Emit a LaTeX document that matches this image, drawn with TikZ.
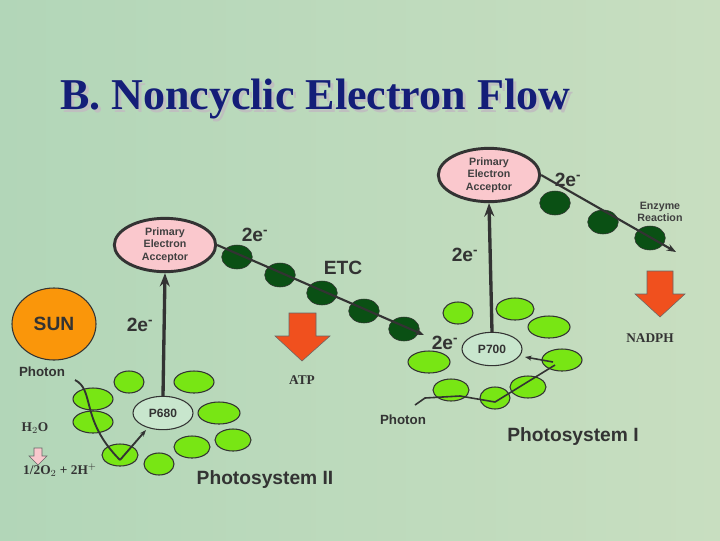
\documentclass[tikz,border=0pt]{standalone}
\usepackage{fontspec}
\setmainfont{Liberation Serif}
\setsansfont{Liberation Sans}
\usetikzlibrary{shapes.geometric, arrows.meta}
\definecolor{bgleft}{RGB}{178,214,184}
\definecolor{bgright}{RGB}{200,222,192}
\definecolor{titleblue}{RGB}{20,30,120}
\definecolor{pinkfill}{RGB}{250,200,205}
\definecolor{lightgreen}{RGB}{120,230,20}
\definecolor{darkgreen}{RGB}{10,80,20}
\definecolor{sunorange}{RGB}{250,150,10}
\definecolor{arrowred}{RGB}{240,80,30}
\definecolor{pfill}{RGB}{200,230,205}
\tikzstyle{arrow} = [line width=2.5pt,-{Stealth[length=10pt]},draw=black!80]

\begin{document}
\begin{tikzpicture}[x=0.75pt, y=-0.75pt,
		acceptor/.style={ellipse, draw=black!80, line width=2.2pt, fill=pinkfill,
			minimum width=76pt, minimum height=40pt, inner sep=0pt, align=center,
			font=\sffamily\bfseries\footnotesize, text=black!75},
		pigment/.style={ellipse, draw=black!80, thick, fill=lightgreen,
			minimum width={0.75pt*#1}, minimum height=16.5pt, inner sep=0pt},
		pigment/.default=40,
		carrier/.style={ellipse, draw=black!80, fill=darkgreen,
			minimum width=23pt, minimum height=18pt, inner sep=0pt},
		center/.style={ellipse, draw=black!80, thick, fill=pfill, minimum width=45pt,
			minimum height=25pt, inner sep=0pt, font=\sffamily\bfseries\small, text=black!80},
		chain/.style={line width=1.6pt, black!80, -{Stealth[length=7pt]}},
		bigarrow/.style={draw=black!60, fill=arrowred},
		lbl/.style={font=\sffamily\bfseries\Large, text=black!80},
		small/.style={font=\sffamily\bfseries\footnotesize, text=black!75, align=center}]

		\shade[left color=bgleft, right color=bgright] (0,0) rectangle (720,540);
		\useasboundingbox (0,0) rectangle (720,540);

		\node[font=\bfseries\fontsize{33}{36}\selectfont, text=black!25] at (318,102) {B. Noncyclic Electron Flow};
		\node (title) [font=\bfseries\fontsize{33}{36}\selectfont, text=titleblue] at (315,99) {B. Noncyclic Electron Flow};

		% photosystem II
		\node (sun) [ellipse, draw=black!80, thick, fill=sunorange, minimum width=63pt, minimum height=54pt,
			inner sep=0pt, font=\sffamily\bfseries\Large, text=black!80] at (54,324) {SUN};
		\node (photona) [font=\sffamily\bfseries\normalsize, text=black!80] at (42,372) {Photon};
		\node (acca) [acceptor] at (165,245) {Primary\\Electron\\Acceptor};

		\foreach \x/\y/\w [count=\i] in {129/382/30, 194/382/40, 93/399/40, 93/422/40, 219/413/42,
			233/440/36, 192/447/36, 120/455/36, 159/464/30}
			\node (pa\i) [pigment=\w] at (\x,\y) {};
		\node (p680) [center] at (163,413) {P680};

		\draw[line width=1.4pt, black!80] (75,380) .. controls (95,390) and (80,420) .. (120,460);
		\draw[line width=1.4pt, black!80, -{Stealth[length=5pt]}] (120,460) -- (146,430);
		\draw[arrow] (p680.north) -- (acca.south);
		\node[lbl] at (140,325) {2e\textsuperscript{-}};

		\node (water) [text=black!80] at (35,428) {\bfseries H$_2$O};
		\node (oxygen) [text=black!80] at (60,470) {\bfseries 1/2O$_2$ + 2H$^+$};
		\draw[draw=black!60, fill=pinkfill] (34,448) -- (42,448) -- (42,456) -- (47,456) -- (38,465)
			-- (29,456) -- (34,456) -- cycle;
		\node[font=\sffamily\bfseries\Large, text=black!80] at (265,480) {Photosystem II};

		% electron transport chain
		\coordinate (etcend) at (424,335);
		\foreach \x/\y [count=\i] in {237/257, 280/275, 322/293, 364/311, 404/329}
			\node (c\i) [carrier] at (\x,\y) {};
		\draw[chain] (acca.east) -- (etcend);
		\node[lbl] at (255,235) {2e\textsuperscript{-}};
		\node[lbl] at (343,268) {ETC};
		\draw[bigarrow] (289,313) -- (316,313) -- (316,336) -- (330,336) -- (302,361) -- (275,336)
			-- (289,336) -- cycle;
		\node (atp) [text=black!80, font=\bfseries] at (302,380) {ATP};

		% photosystem I
		\node (accb) [acceptor] at (489,175) {Primary\\Electron\\Acceptor};
		\foreach \x/\y/\w [count=\i] in {458/313/30, 515/309/38, 549/327/42, 562/360/40,
			429/362/42, 451/390/36, 528/387/36, 495/398/30}
			\node (pb\i) [pigment=\w] at (\x,\y) {};
		\node (p700) [center] at (492,349) {P700};
		\node[lbl] at (445,343) {2e\textsuperscript{-}};

		\node (photonb) [font=\sffamily\bfseries\normalsize, text=black!80] at (403,420) {Photon};
		\draw[line width=1.2pt, black!80] (415,405) -- (425,398) -- (460,396) -- (495,402) -- (555,365);
		\draw[line width=1.2pt, black!80, -{Stealth[length=5pt]}] (553,362) -- (525,357);
		\draw[arrow] (p700.north) -- (accb.south);
		\node[lbl] at (465,255) {2e\textsuperscript{-}};

		\coordinate (nadpend) at (676,252);
		\foreach \x/\y [count=\i] in {555/203, 603/222, 650/238}
			\node (e\i) [carrier] at (\x,\y) {};
		\draw[chain] (accb.east) -- (nadpend);
		\node[lbl] at (568,180) {2e\textsuperscript{-}};
		\node (enzyme) [small] at (660,212) {Enzyme\\Reaction};
		\draw[bigarrow] (647,271) -- (673,271) -- (673,294) -- (685,294) -- (660,317) -- (635,294)
			-- (647,294) -- cycle;
		\node (nadph) [text=black!80, font=\bfseries] at (650,338) {NADPH};
		\node[font=\sffamily\bfseries\Large, text=black!80] at (573,437) {Photosystem I};
	\end{tikzpicture}
\end{document}
